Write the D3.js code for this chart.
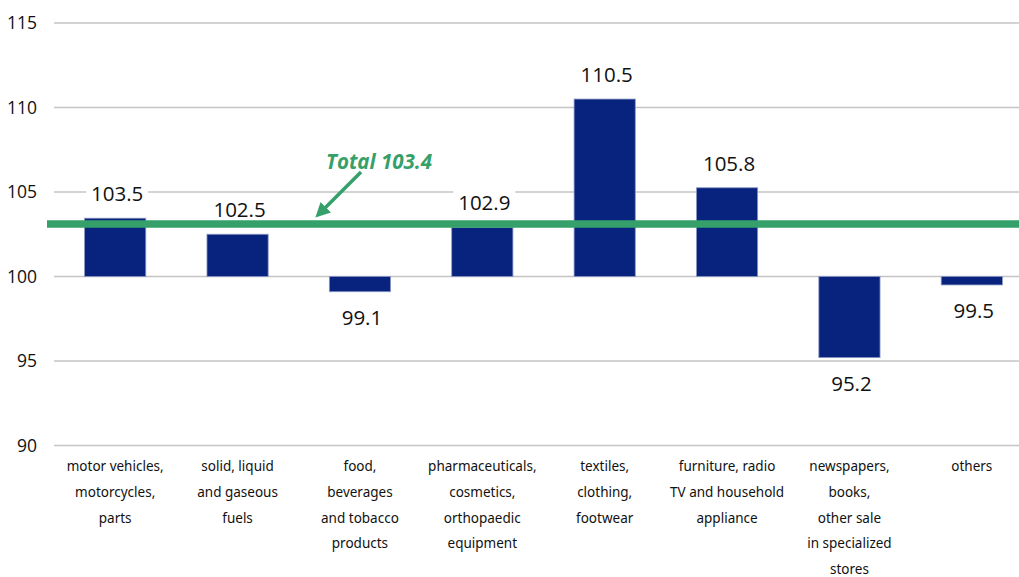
<!DOCTYPE html>
<html><head><meta charset="utf-8">
<script src="https://cdn.jsdelivr.net/npm/d3@7"></script>
<style>body{margin:0;background:#fff}svg{display:block}</style>
</head><body>
<svg id="c" width="1019" height="577"></svg>
<script>
const categories = [
  ["motor vehicles,","motorcycles,","parts"],
  ["solid, liquid","and gaseous","fuels"],
  ["food,","beverages","and tobacco","products"],
  ["pharmaceuticals,","cosmetics,","orthopaedic","equipment"],
  ["textiles,","clothing,","footwear"],
  ["furniture, radio","TV and household","appliance"],
  ["newspapers,","books,","other sale","in specialized","stores"],
  ["others"]
];
// bar heights as drawn in the picture
const values = [103.45, 102.5, 99.1, 102.9, 110.5, 105.25, 95.2, 99.5];
// value labels as printed
const valueLabels = ["103.5", "102.5", "99.1", "102.9", "110.5", "105.8", "95.2", "99.5"];
const yTicks = [90, 95, 100, 105, 110, 115];
const totalValue = 103.4;
const totalLineLevel = 103.1;

const svg = d3.select("#c");
const x = d3.scaleBand().domain(d3.range(values.length)).range([54, 1033]).paddingInner(0.5).paddingOuter(0.25);
const y = d3.scaleLinear().domain([90, 115]).range([445.5, 23]);

// grid
svg.append("g").selectAll("line").data(yTicks).join("line")
  .attr("x1", 54).attr("x2", 1019)
  .attr("y1", d => y(d)).attr("y2", d => y(d))
  .attr("stroke", "#c4c4c4").attr("stroke-width", 1.3);

// y axis labels
const yAxis = d3.axisLeft(y).tickValues(yTicks).tickSize(0).tickPadding(0);
const ga = svg.append("g").attr("transform", "translate(37,0)").call(yAxis);
ga.select(".domain").remove();
ga.selectAll("text").attr("font-family", "Open Sans, sans-serif").attr("font-size", 17.5).attr("fill", "#111");

// bars
svg.append("g").selectAll("rect").data(values).join("rect")
  .attr("x", (d, i) => x(i))
  .attr("width", x.bandwidth())
  .attr("y", d => y(Math.max(d, 100)))
  .attr("height", d => Math.abs(y(d) - y(100)))
  .attr("fill", "#08237e").attr("stroke", "#8a97c4").attr("stroke-width", 0.8);

// value labels
const lbl = svg.append("g").selectAll("g").data(values).join("g")
  .attr("transform", (d, i) => `translate(${x(i) + x.bandwidth() / 2 + 2},${d >= 100 ? y(d) - 24.5 : y(d) + 25.5})`);
lbl.append("rect").attr("x", -31).attr("y", -15).attr("width", 62).attr("height", 30).attr("fill", "#fff");
lbl.append("text").attr("text-anchor", "middle").attr("dy", "0.36em")
  .attr("font-family", "Open Sans, sans-serif").attr("font-size", 20.5).attr("fill", "#111")
  .text((d, i) => valueLabels[i]);

// total line
svg.append("line").attr("x1", 47).attr("x2", 1019)
  .attr("y1", y(totalLineLevel)).attr("y2", y(totalLineLevel))
  .attr("stroke", "#35a06a").attr("stroke-width", 7.5);

// arrow
const defs = svg.append("defs");
defs.append("marker").attr("id", "ah").attr("viewBox", "0 0 10 10").attr("refX", 7).attr("refY", 5)
  .attr("markerWidth", 4.2).attr("markerHeight", 4.2).attr("orient", "auto")
  .append("path").attr("d", "M0,0 L10,5 L0,10 z").attr("fill", "#35a06a");
svg.append("line").attr("x1", 361).attr("y1", 172).attr("x2", 318.5).attr("y2", 214.5)
  .attr("stroke", "#35a06a").attr("stroke-width", 3.5).attr("marker-end", "url(#ah)");
svg.append("text").attr("x", 379).attr("y", 168.5).attr("text-anchor", "middle")
  .attr("font-family", "Open Sans, sans-serif").attr("font-weight", "bold").attr("font-style", "italic")
  .attr("font-size", 20.5).attr("fill", "#35a06a").text("Total " + totalValue.toFixed(1));

// category labels
const cg = svg.append("g").selectAll("text").data(categories).join("text")
  .attr("x", (d, i) => x(i) + x.bandwidth() / 2)
  .attr("y", 471)
  .attr("text-anchor", "middle")
  .attr("font-family", "Noto Sans, sans-serif").attr("font-size", 13.5).attr("fill", "#111");
cg.selectAll("tspan").data(d => d).join("tspan")
  .attr("x", function () { return this.parentNode.getAttribute("x"); })
  .attr("dy", (d, i) => i === 0 ? 0 : 25.8)
  .text(d => d);
</script>
</body></html>
